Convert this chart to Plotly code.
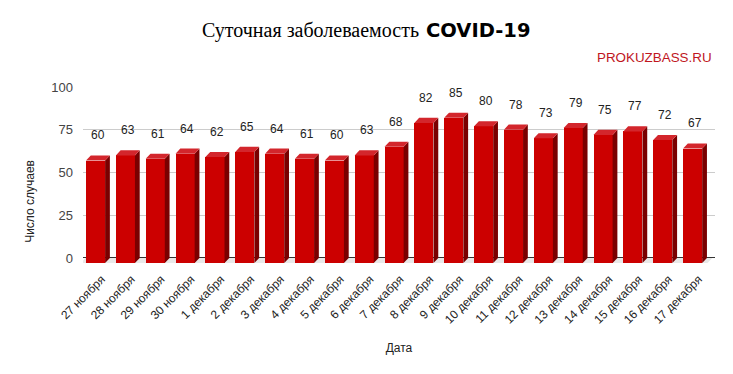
import plotly.graph_objects as go

dates = ["27 ноября", "28 ноября", "29 ноября", "30 ноября", "1 декабря", "2 декабря",
         "3 декабря", "4 декабря", "5 декабря", "6 декабря", "7 декабря", "8 декабря",
         "9 декабря", "10 декабря", "11 декабря", "12 декабря", "13 декабря", "14 декабря",
         "15 декабря", "16 декабря", "17 декабря"]
cases = [60, 63, 61, 64, 62, 65, 64, 61, 60, 63, 68, 82, 85, 80, 78, 73, 79, 75, 77, 72, 67]
y_ticks = [0, 25, 50, 75, 100]

xs = list(range(len(dates)))
bw = 0.64      # front face width (category units)
dx = 0.16      # depth, horizontal (category units)
dy = 3.0       # depth, vertical (value units)

front_col = "#cc0000"
side_col = "#7a0000"
top_col = "#d3262c"

# side and top faces as polygons derived from the data
side_x, side_y, top_x, top_y = [], [], [], []
for x, v in zip(xs, cases):
    r = x + bw / 2
    l = x - bw / 2
    side_x += [r, r + dx, r + dx, r, r, None]
    side_y += [-dy, 0, v, v - dy, -dy, None]
    top_x += [l, l + dx, r + dx, r, l, None]
    top_y += [v - dy, v, v, v - dy, v - dy, None]

fig = go.Figure()
fig.add_trace(go.Bar(x=xs, y=cases, base=[-dy] * len(cases), width=bw,
                     marker=dict(color=front_col, line=dict(width=0)),
                     hoverinfo="skip"))
fig.add_trace(go.Scatter(x=side_x, y=side_y, mode="lines", fill="toself",
                         fillcolor=side_col, line=dict(width=0, color=side_col),
                         hoverinfo="skip"))
fig.add_trace(go.Scatter(x=top_x, y=top_y, mode="lines", fill="toself",
                         fillcolor=top_col, line=dict(width=0, color=top_col),
                         hoverinfo="skip"))

# floor
fig.add_shape(type="path", xref="x", yref="y",
              path=f"M {-0.5} {-dy} L {-0.5 + dx} 0 L {len(xs) - 0.5 + dx} 0 L {len(xs) - 0.5} {-dy} Z",
              fillcolor="#e8e8e8", line=dict(width=0), layer="below")

for x, v in zip(xs, cases):
    fig.add_annotation(x=x + dx / 2, y=v, text=str(v), showarrow=False,
                       yanchor="bottom", yshift=11,
                       font=dict(family="Liberation Sans, Arial", size=12, color="#222222"))

fig.update_layout(
    width=725, height=366,
    margin=dict(l=75, r=18, t=79, b=109),
    paper_bgcolor="white", plot_bgcolor="white",
    showlegend=False, bargap=0,
    xaxis=dict(range=[-0.42, 20.75], tickmode="array", tickvals=[x + 0.2 for x in xs], ticktext=dates,
               tickangle=-45, showgrid=False, zeroline=False, showline=False, ticks="",
               ticklabelstandoff=4,
               tickfont=dict(family="Liberation Sans, Arial", size=12, color="#222222"),
               title=dict(text="Дата", font=dict(family="Liberation Sans, Arial", size=12, color="#222222"),
                          standoff=18)),
    yaxis=dict(range=[-4.1, 100], tickmode="array", tickvals=y_ticks,
               showgrid=True, gridcolor="#cccccc", gridwidth=1,
               zeroline=True, zerolinecolor="#333333", zerolinewidth=1,
               showline=False, ticks="", ticklabelstandoff=9,
               tickfont=dict(family="Liberation Sans, Arial", size=13, color="#444444")),
)

# title in two parts: serif text + heavy sans "COVID-19"
fig.add_annotation(xref="paper", yref="paper", x=0.535, y=1.32, text="Суточная заболеваемость",
                   showarrow=False, xanchor="right", yanchor="middle",
                   font=dict(family="Liberation Serif, Times New Roman", size=20, color="#000000"))
fig.add_annotation(xref="paper", yref="paper", x=0.539, y=1.32, text="<b>COVID-19</b>",
                   showarrow=False, xanchor="left", yanchor="middle",
                   font=dict(family="DejaVu Sans, Arial Black", size=19.5, color="#000000"))

fig.add_annotation(xref="paper", yref="paper", x=-0.084, y=0.36, text="Число случаев",
                   textangle=-90, showarrow=False, xanchor="center", yanchor="middle",
                   font=dict(family="Liberation Sans, Arial", size=12, color="#222222"))
fig.add_annotation(xref="paper", yref="paper", x=0.999, y=1.163, text="PROKUZBASS.RU",
                   showarrow=False, xanchor="right", yanchor="middle",
                   font=dict(family="Liberation Sans, Arial", size=13.4, color="#c0161e"))

fig.write_html("out.html")
